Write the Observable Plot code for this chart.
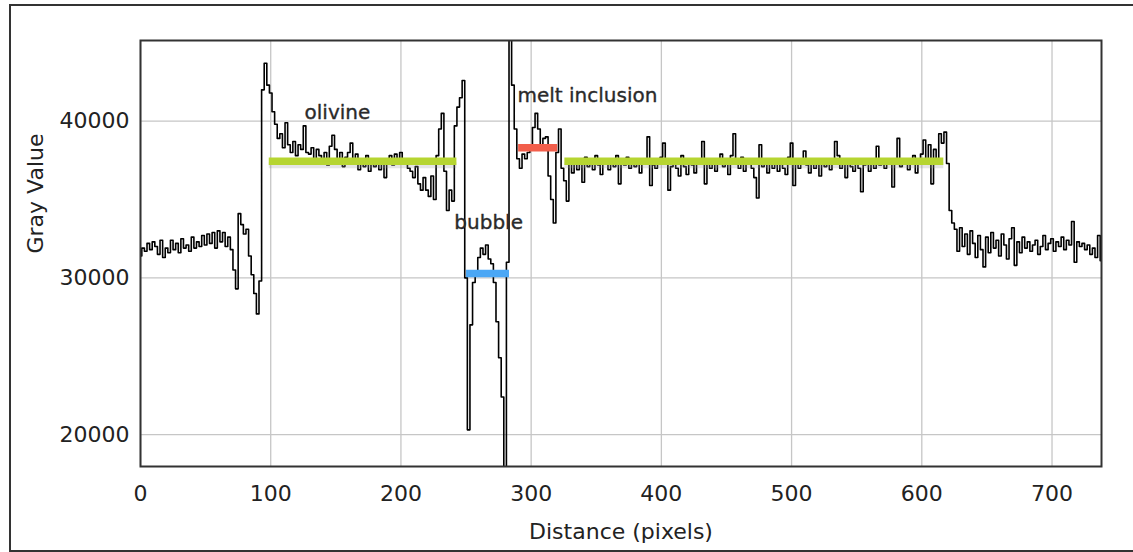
<!DOCTYPE html>
<html>
<head>
<meta charset="utf-8">
<script src="https://cdn.jsdelivr.net/npm/d3@7"></script>
<script src="https://cdn.jsdelivr.net/npm/@observablehq/plot@0.6"></script>
<style>
  html, body { margin: 0; padding: 0; background: #fff; overflow: hidden; }
  #wrap { position: relative; width: 1133px; height: 552px; }
  #border { position: absolute; left: 9px; top: 4px; width: 1140px; height: 544px; border: 2px solid #333; pointer-events: none; }
  #chart { position: absolute; left: 0; top: 0; }
</style>
</head>
<body>
<div id="wrap"><div id="chart"></div><div id="border"></div></div>
<script>
// Gray value profile, one reading every 2 pixels of distance (0 … 738)
const sampleStep = 2;
const grayValues = [
  31400, 31900, 31700, 32200, 31800, 32300, 32000, 31500, 32400, 31300,
  31900, 31600, 32400, 31800, 32200, 31600, 32500, 31900, 32100, 31700,
  32600, 31900, 32300, 32000, 32700, 32100, 32800, 32200, 32900, 31900,
  33000, 32300, 32900, 32000, 32600, 31800,
  30500, 29300, 34100, 33400, 32800, 33100, 31400, 30200, 29000, 27700, 29800, 42000, 43700, 42300,
  41800, 40600, 39800, 38900, 39200, 38300, 39900, 38500, 38000, 38700, 37800, 38500, 38200, 39700, 38000,
  37900, 38300, 37600, 38200, 37800, 37400, 38000, 37200, 38400, 39100,
  38200, 37300, 38000, 37100, 37700, 38000, 38600, 37600, 37900, 36900,
  37500, 37100, 37800, 36800, 37400, 37100, 37600, 36900, 37300, 36400,
  37500, 37800, 37200, 37900, 37500, 38000, 37600, 37400, 37000, 36800,
  36400, 37100, 36000, 35600, 36400,
  35600, 35200, 36500, 35000, 37800, 39500, 40500, 36800, 34300, 35600,
  34900, 39700, 40900, 41500, 42600, 30000, 20300, 27000, 29700, 30300,
  31300, 31900, 31500, 32100, 31200, 30900, 29700, 27200, 24900, 22400,
  17000, 31000,
  45600, 42300, 39500, 37600, 37000, 37900, 37600, 38000, 38300, 39600,
  40500, 39500, 38300, 38900, 39000, 36500, 35000, 33500, 38000, 39500,
  37000, 36200, 34900,
  37300, 36700, 37600, 36900, 37400, 36100, 37700, 37100, 37500, 36900,
  37800, 37200, 36600, 37600, 37300, 36900, 37400, 37100, 37800, 36000,
  37500, 37200, 37700, 37000, 37400, 37100, 37600, 36700, 37300, 37500,
  39000, 35900, 37200, 37000, 37400, 37700, 38600, 37300, 35600, 37100,
  37500, 37000, 36500, 37800, 37100, 36600, 37500, 37200, 36700, 37600,
  37300, 38700, 36000, 37400, 37000, 37600, 36800, 37500, 37900, 37100,
  37400, 36600, 37800, 39200, 37300, 37000, 37700, 36800, 37300, 37600,
  37000, 36400, 35100, 38500, 37100, 37400, 36700, 37600, 37000, 37300,
  36800, 37500, 37000, 36600, 37700, 38600, 35900, 37300, 37000, 37500,
  38100, 37200, 36700, 37400, 37000, 37600, 36500, 37300, 37100, 37500,
  36900, 37400, 38700, 37800, 37000, 37300, 36400, 37500, 37100, 36800,
  37400, 37000, 35500, 37200, 37600, 36800, 37400, 37000, 38400, 37200,
  37600, 37000, 37400, 37300, 35800, 37500, 38900, 37100, 37600, 37300,
  36900, 37500, 37800, 36700, 37500, 37900, 38800, 37600, 38500, 36000,
  38200, 37500, 39200, 38600, 39300, 37300, 34300, 33500, 33100, 31700,
  33200, 32000, 32800, 31500, 33000, 32200, 31300, 32700, 31800, 30700,
  32600, 31600, 32900, 31900, 32400, 31400, 32800, 32100, 31200, 32500,
  33200, 30800, 32300, 31600, 32600, 31900, 32300, 31700, 32100, 32400,
  31500, 32000, 32700, 31800, 32200, 32500, 31700, 32300, 32000, 32600,
  31800, 32400, 32100, 33600, 31000, 32300, 32000, 32200, 31800, 32100,
  31500, 31900, 31300, 32700, 31100
];

// Mean-level bars drawn over the profile
const segmentPhase = ["olivine", "bubble", "melt inclusion", "olivine"];
const segmentStart = [98.5, 250, 290, 325.5];
const segmentEnd   = [242.6, 283, 320, 616.5];
const segmentLevel = [37450, 30280, 38300, 37450];

// Annotation labels (anchor = left end of baseline, in data units)
const labelText = ["olivine", "melt inclusion", "bubble"];
const labelX    = [126, 289.5, 241];
const labelY    = [40150, 41210, 33140];

// Axis ticks
const xTicks = [0, 100, 200, 300, 400, 500, 600, 700];
const yTicks = [20000, 30000, 40000];

const profile = grayValues.map((g, i) => ({distance: i * sampleStep, gray: g}));
const segments = segmentPhase.map((p, i) => ({phase: p, x1: segmentStart[i], x2: segmentEnd[i], level: segmentLevel[i]}));
const labels = labelText.map((t, i) => ({text: t, x: labelX[i], y: labelY[i]}));
const phaseColors = {"olivine": "#b6d531", "bubble": "#4ba7f5", "melt inclusion": "#f25e4b"};

const chart = Plot.plot({
  width: 1133,
  height: 552,
  marginLeft: 140,
  marginRight: 32,
  marginTop: 40,
  marginBottom: 86,
  style: {fontFamily: "DejaVu Sans", fontSize: "22px", color: "#222", background: "transparent"},
  x: {domain: [0, 738]},
  y: {domain: [17960, 45150]},
  marks: [
    Plot.gridX(xTicks, {stroke: "#c6c6c6", strokeOpacity: 1, strokeWidth: 1.3}),
    Plot.gridY(yTicks, {stroke: "#c6c6c6", strokeOpacity: 1, strokeWidth: 1.3}),
    Plot.line(profile, {x: "distance", y: "gray", curve: "step", stroke: "#000", strokeWidth: 1.6, clip: true}),
    Plot.link(segments.filter(d => d.phase === "olivine"), {x1: "x1", x2: "x2", y1: "level", y2: "level", stroke: "#999", strokeOpacity: 0.25, strokeWidth: 6, dy: 4}),
    Plot.link(segments, {x1: "x1", x2: "x2", y1: "level", y2: "level", stroke: d => phaseColors[d.phase], strokeWidth: 7.5, strokeLinecap: "butt"}),
    Plot.text(labels, {x: "x", y: "y", text: "text", textAnchor: "start", lineAnchor: "bottom", fontSize: 20, fill: "#2a2a2a", stroke: "#2a2a2a", strokeWidth: 0.35}),
    Plot.frame({stroke: "#333", strokeWidth: 2}),
    Plot.axisX(xTicks, {tickSize: 0, tickPadding: 19, tickFormat: d => String(d), label: null, fill: "#222"}),
    Plot.axisY(yTicks, {tickSize: 0, tickPadding: 11, tickFormat: d => String(d), label: null, fill: "#222"}),
    Plot.text(["Distance (pixels)"], {frameAnchor: "bottom", dy: 65, lineAnchor: "middle", fill: "#222"}),
    Plot.text(["Gray Value"], {frameAnchor: "left", dx: -105, rotate: -90, lineAnchor: "middle", fill: "#222"})
  ]
});
document.getElementById("chart").appendChild(chart);
</script>
</body>
</html>
